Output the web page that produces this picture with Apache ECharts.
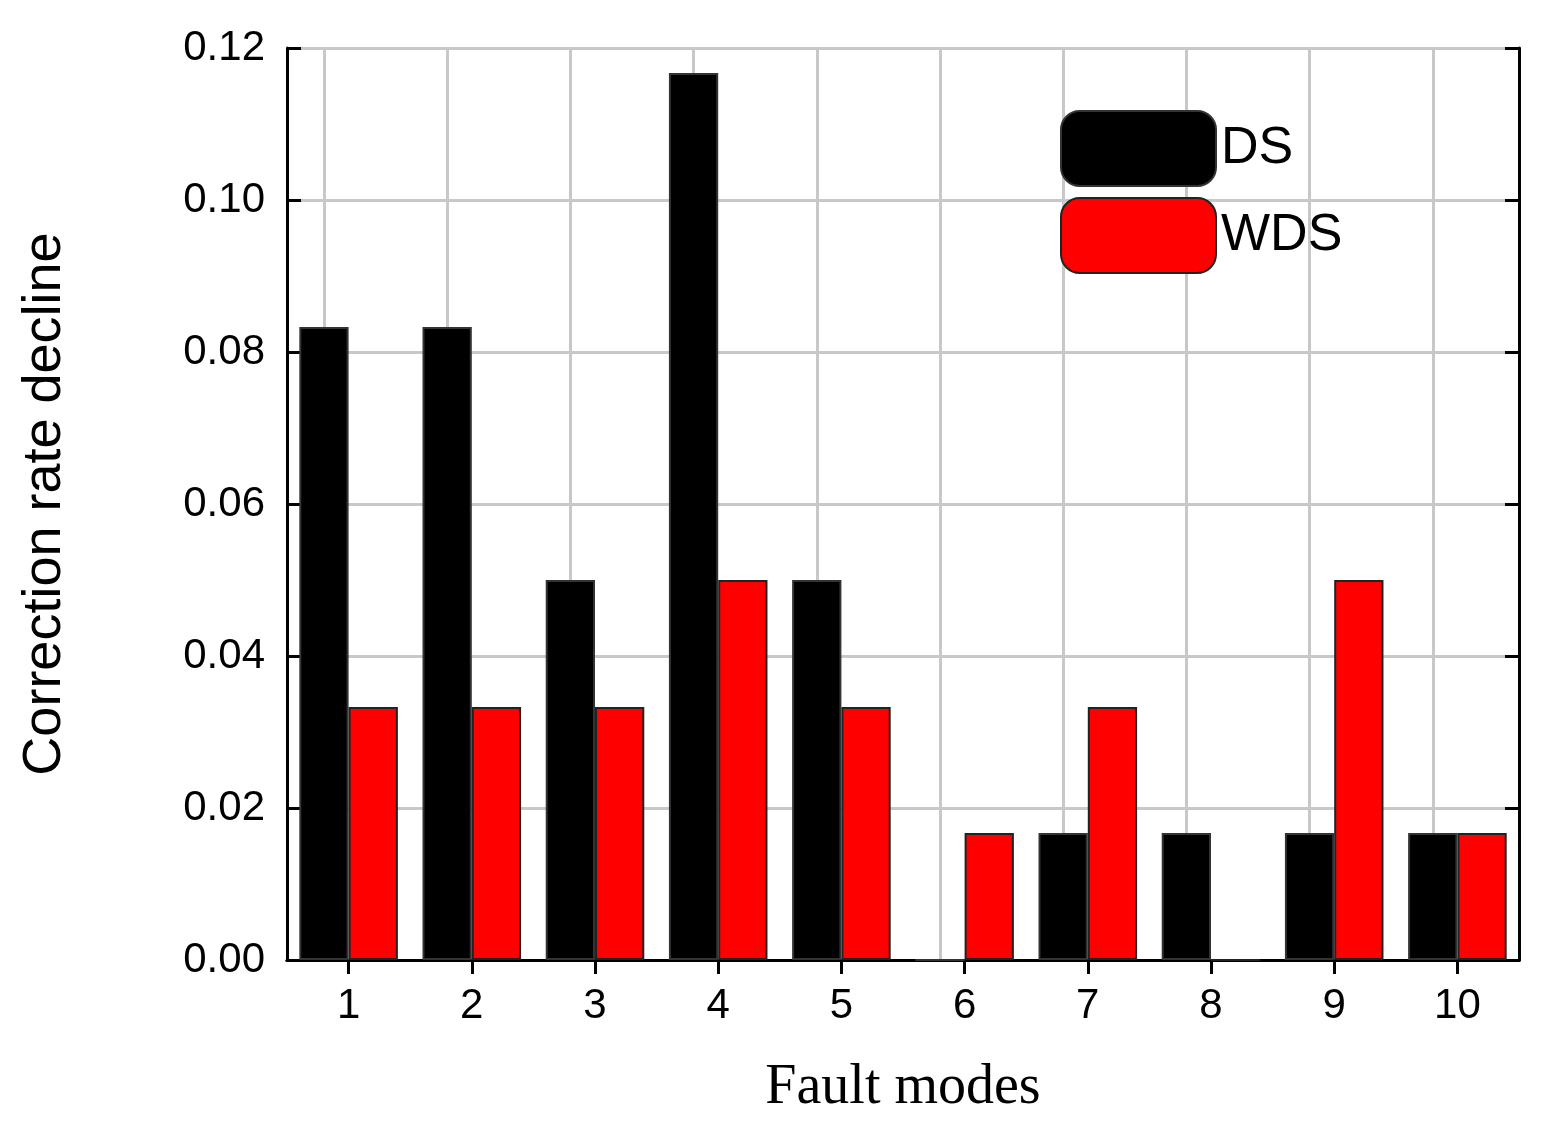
<!DOCTYPE html>
<html><head><meta charset="utf-8">
<script src="https://cdn.jsdelivr.net/npm/echarts@6/dist/echarts.min.js"></script>
<style>html,body{margin:0;background:#fff}#c{width:1541px;height:1131px}</style>
</head><body><div id="c"></div>
<script>
const categories = ['1','2','3','4','5','6','7','8','9','10'];
const dsValues = [0.0833, 0.0833, 0.05, 0.1167, 0.05, 0, 0.0167, 0.0167, 0.0167, 0.0167];
const wdsValues = [0.0333, 0.0333, 0.0333, 0.05, 0.0333, 0.0167, 0.0333, 0, 0.05, 0.0167];

let chart = echarts.init(document.getElementById('c'));
let font = 'Liberation Sans, Arial, sans-serif';
chart.setOption({
  animation: false,
  grid: { left: 287, right: 22, top: 48, bottom: 171 },
  legend: {
    left: 1055, top: 105, orient: 'vertical', itemWidth: 155, itemHeight: 75, itemGap: 10,
    textStyle: { fontSize: 52, fontFamily: font, color: '#000' },
    data: ['DS', 'WDS']
  },
  xAxis: [{
    type: 'category', data: categories, name: 'Fault modes', nameLocation: 'middle', nameGap: 100,
    nameTextStyle: { fontSize: 56, fontFamily: 'Liberation Serif, Times New Roman, serif', color: '#000' },
    axisLine: { lineStyle: { color: '#000', width: 3 } },
    axisTick: { show: false },
    axisLabel: { fontSize: 42, fontFamily: font, color: '#000', margin: 25 }
  }, {
    type: 'category', data: categories, position: 'top',
    axisLine: { lineStyle: { color: '#000', width: 3 } },
    axisTick: { show: true, alignWithLabel: true, inside: true, length: 14, lineStyle: { color: '#000', width: 3 } },
    axisLabel: { show: false }
  }],
  yAxis: [{
    type: 'value', min: 0, max: 0.12, interval: 0.02, name: 'Correction rate decline',
    nameLocation: 'middle', nameGap: 215,
    nameTextStyle: { fontSize: 54, fontFamily: font, color: '#000' },
    axisLine: { show: true, lineStyle: { color: '#000', width: 3 } },
    axisTick: { show: true, inside: true, length: 14, lineStyle: { color: '#000', width: 3 } },
    axisLabel: { fontSize: 42, fontFamily: font, color: '#000', margin: 22, formatter: v => v.toFixed(2) },
    splitLine: { lineStyle: { color: '#c8c8c8', width: 3 } }
  }, {
    type: 'value', min: 0, max: 0.12, interval: 0.02, position: 'right',
    axisLine: { show: true, lineStyle: { color: '#000', width: 3 } },
    axisTick: { show: true, inside: true, length: 14, lineStyle: { color: '#000', width: 3 } },
    axisLabel: { show: false }, splitLine: { show: false }
  }],
  series: [{
    name: 'DS', type: 'bar', data: dsValues, barGap: '0%', barCategoryGap: '20%',
    itemStyle: { color: '#000', borderColor: '#333', borderWidth: 2 },
    markLine: {
      silent: true, symbol: 'none', label: { show: false }, z: 1,
      lineStyle: { color: '#c8c8c8', width: 3, type: 'solid' },
      data: categories.map(c => ({ xAxis: c }))
    }
  }, {
    name: 'WDS', type: 'bar', data: wdsValues,
    itemStyle: { color: '#ff0000', borderColor: '#222', borderWidth: 2 }
  }]
});
</script></body></html>
